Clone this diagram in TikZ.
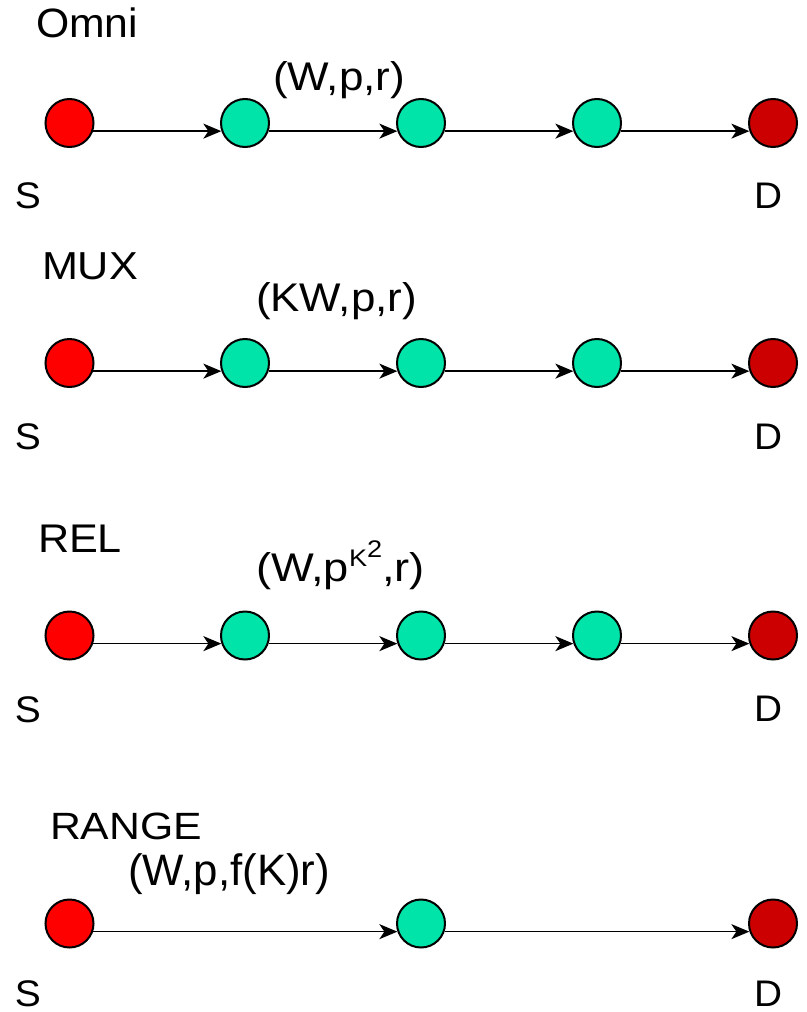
\documentclass[tikz,border=0pt]{standalone}
\usepackage{fontspec}
\setmainfont{Liberation Sans}
\usepackage{graphicx}
\usetikzlibrary{arrows.meta}

\definecolor{srcred}{RGB}{255,0,0}
\definecolor{relaygreen}{RGB}{0,227,169}
\definecolor{dstred}{RGB}{204,0,0}

% text set at a given size and stretched to a given width
\newcommand{\wtext}[3]{\resizebox{#1}{\height}{\fontsize{#2}{#2}\selectfont #3}}

\tikzset{
  station/.style={circle, draw=black, line width=2pt, minimum size=48pt, inner sep=0pt},
  src/.style={station, fill=srcred},
  relay/.style={station, fill=relaygreen},
  dst/.style={station, fill=dstred},
  hop/.style={-{Stealth[length=18pt, width=15pt, inset=5pt]}, line width=1.6pt, black},
  txt/.style={anchor=base west, inner sep=0pt, outer sep=0pt},
}

\begin{document}
\begin{tikzpicture}[x=1pt, y=-1pt]
  \useasboundingbox (0,0) rectangle (806,1012);

  % ---------------- Omni ----------------
  \node[txt] (t1) at (36,37) {\wtext{102pt}{41pt}{Omni}};
  \node[src]   (a1) at (69.5,123) {};
  \node[relay] (b1) at (245,123) {};
  \node[relay] (c1) at (421,123) {};
  \node[relay] (d1) at (597,123) {};
  \node[dst]   (e1) at (773,123) {};
  \draw[hop] (a1.-19.5) -- (b1.199.5);
  \draw[hop] (b1.-19.5) -- (c1.199.5);
  \draw[hop] (c1.-19.5) -- (d1.199.5);
  \draw[hop] (d1.-19.5) -- (e1.199.5);
  \node[txt] (l1) at (273,90) {\wtext{132pt}{40pt}{(W,p,r)}};
  \node[txt] (s1) at (15,208) {\wtext{26pt}{37pt}{S}};
  \node[txt] (r1) at (754,208) {\wtext{28pt}{37pt}{D}};

  % ---------------- MUX ----------------
  \node[txt] (t2) at (42,279) {\wtext{96pt}{39pt}{MUX}};
  \node[src]   (a2) at (69.5,363) {};
  \node[relay] (b2) at (245,363) {};
  \node[relay] (c2) at (421,363) {};
  \node[relay] (d2) at (597,363) {};
  \node[dst]   (e2) at (773,363) {};
  \draw[hop] (a2.-19.5) -- (b2.199.5);
  \draw[hop] (b2.-19.5) -- (c2.199.5);
  \draw[hop] (c2.-19.5) -- (d2.199.5);
  \draw[hop] (d2.-19.5) -- (e2.199.5);
  \node[txt] (l2) at (256,311) {\wtext{161pt}{40pt}{(KW,p,r)}};
  \node[txt] (s2) at (15,449) {\wtext{26pt}{37pt}{S}};
  \node[txt] (r2) at (754,449) {\wtext{28pt}{37pt}{D}};

  % ---------------- REL ----------------
  \node[txt] (t3) at (38,552) {\wtext{84pt}{40pt}{REL}};
  \node[src]   (a3) at (69.5,635.5) {};
  \node[relay] (b3) at (245,635.5) {};
  \node[relay] (c3) at (421,635.5) {};
  \node[relay] (d3) at (597,635.5) {};
  \node[dst]   (e3) at (773,635.5) {};
  \draw[hop] (a3.-19.5) -- (b3.199.5);
  \draw[hop] (b3.-19.5) -- (c3.199.5);
  \draw[hop] (c3.-19.5) -- (d3.199.5);
  \draw[hop] (d3.-19.5) -- (e3.199.5);
  \node[txt] (l3) at (256,581) {\wtext{169pt}{40pt}{(W,p\raisebox{15pt}{\fontsize{24pt}{24pt}\selectfont K\raisebox{9pt}{2}},r)}};
  \node[txt] (s3) at (15,722) {\wtext{26pt}{37pt}{S}};
  \node[txt] (r3) at (754,721) {\wtext{28pt}{37pt}{D}};

  % ---------------- RANGE ----------------
  \node[txt] (t4) at (50,839) {\wtext{152pt}{38pt}{RANGE}};
  \node[src]   (a4) at (69.5,923.5) {};
  \node[relay] (b4) at (421,923.5) {};
  \node[dst]   (e4) at (773,923.5) {};
  \draw[hop] (a4.-19.5) -- (b4.199.5);
  \draw[hop] (b4.-19.5) -- (e4.199.5);
  \node[txt] (l4) at (128,885) {\wtext{202pt}{44pt}{(W,p,f(K)r)}};
  \node[txt] (s4) at (15,1006) {\wtext{26pt}{37pt}{S}};
  \node[txt] (r4) at (754,1006) {\wtext{28pt}{37pt}{D}};
\end{tikzpicture}
\end{document}
